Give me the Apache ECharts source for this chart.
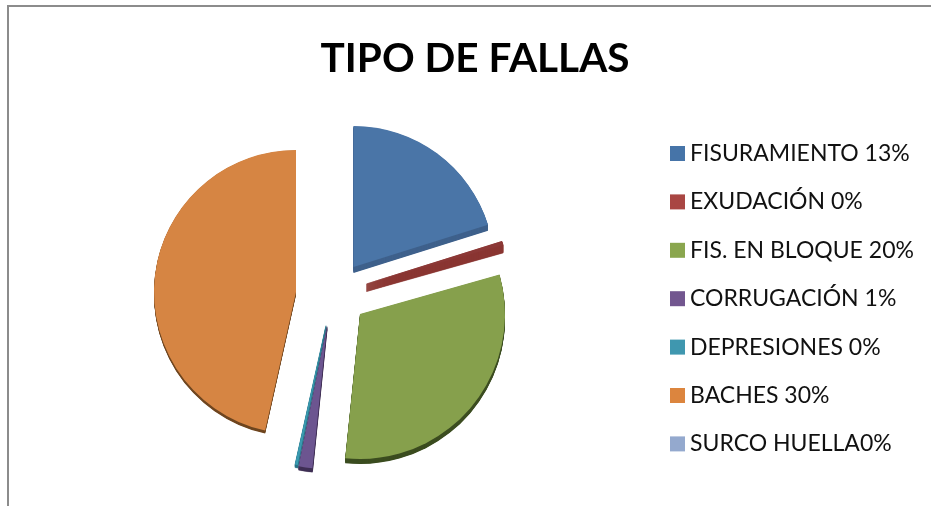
<!DOCTYPE html>
<html><head><meta charset="utf-8">
<style>html,body{margin:0;padding:0;background:#fff}#c{width:931px;height:506px}</style>
<script src="https://cdn.jsdelivr.net/npm/echarts@6/dist/echarts.min.js"></script>
</head><body><div id="c"></div>
<script>
const titleText = 'TIPO DE FALLAS';
const categories = ['FISURAMIENTO 13%','EXUDACIÓN 0%','FIS. EN BLOQUE 20%','CORRUGACIÓN 1%','DEPRESIONES 0%','BACHES 30%','SURCO HUELLA0%'];
const values = [13, 0.3, 20, 1, 0.2, 30, 0];

const legendColors = ['#4674A8','#A94643','#8AA64E','#72568F','#3F97AF','#DC853E','#94A9CE'];
const topColors = ['#4a75a7','#8c3836','#86a04c','#6c5590','#3a9ab0','#d68543','#94A9CE'];
const sideColors = ['#3f618c','#8a3633','#3c4d20','#3f3055','#2a7488','#6f4620','#6a7a96'];

// exploded layout of each wedge: [center x, center y], radius, thickness, wall outline
const wedgeCenters = [[353.5,267],[366.5,283.5],[360,314],[327,326],[326,325],[296,292],[332,292]];
const wedgeRadii = [141,142,145,143,143,142,140];
const wedgeDepth = [6,8,5,4,3,3,0];
const wallOutline = [0,0.5,0,0.3,0.3,0,0];
const depthStep = 0.5;

const pieSeries = (i, depth) => ({
  type: 'pie',
  silent: true,
  animation: false,
  startAngle: 90,
  clockwise: true,
  center: [wedgeCenters[i][0], wedgeCenters[i][1] + depth],
  radius: [0, wedgeRadii[i]],
  label: {show: false},
  labelLine: {show: false},
  emphasis: {disabled: true},
  data: categories.map((name, k) => ({
    name,
    value: values[k],
    itemStyle: k === i
      ? (depth > 0
          ? {color: sideColors[i], opacity: 1, borderColor: sideColors[i], borderWidth: wallOutline[i]}
          : {color: topColors[i], opacity: 1, borderWidth: 0})
      : {color: 'rgba(0,0,0,0)', opacity: 0, borderWidth: 0}
  }))
});

// side wall: the wedge repeated in small steps below its top face
const series = [];
categories.forEach((_, i) => {
  for (let d = wedgeDepth[i]; d > 0; d -= depthStep) series.push(pieSeries(i, d));
});
categories.forEach((_, i) => series.push(pieSeries(i, 0)));

const chart = echarts.init(document.getElementById('c'), null, {renderer: 'canvas'});
chart.setOption({
  animation: false,
  backgroundColor: '#fff',
  title: {
    text: titleText, left: 470, top: 33, textAlign: 'center',
    textStyle: {fontFamily: 'Lato', fontWeight: 'bold', fontSize: 40.5, color: '#000'}
  },
  legend: {
    orient: 'vertical', left: 665, top: 137, bottom: 0,
    itemWidth: 15, itemHeight: 15, itemGap: 25.4,
    icon: 'rect',
    selectedMode: false,
    textStyle: {fontFamily: 'Lato', fontSize: 23, color: '#111'},
    data: categories.map((name, i) => ({name, icon: 'rect', itemStyle: {color: legendColors[i], opacity: 1, borderWidth: 0}}))
  },
  graphic: [
    {type: 'rect', silent: true, shape: {x: 7, y: 5, width: 924, height: 2}, style: {fill: '#8c8c8c'}},
    {type: 'rect', silent: true, shape: {x: 7, y: 5, width: 2, height: 501}, style: {fill: '#8c8c8c'}}
  ],
  series
});
</script></body></html>
